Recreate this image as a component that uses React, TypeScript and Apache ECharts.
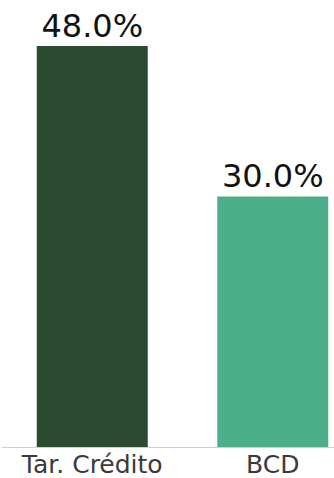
import React, { useEffect, useRef } from "react";
import * as echarts from "echarts";

const categories = ["Tar. Crédito", "BCD"];
const values = [48.0, 30.0];
const barColors = ["#2c4a2f", "#4dae8a"];

export default function App() {
  const ref = useRef<HTMLDivElement>(null);
  useEffect(() => {
    if (!ref.current) return;
    const chart = echarts.init(ref.current, null, { renderer: "svg" });
    chart.setOption({
      animation: false,
      grid: {
        left: 2,
        top: 46,
        bottom: 31,
        width: 361,
        containLabel: false,
        outerBoundsMode: "none",
      },
      xAxis: {
        type: "category",
        data: categories,
        axisLine: { show: true, lineStyle: { color: "#d0d0d0", width: 1 } },
        axisTick: { show: false },
        axisLabel: {
          interval: 0,
          hideOverlap: false,
          color: "#3a3a3a",
          fontSize: 25,
          fontFamily: "DejaVu Sans",
          margin: 5,
          lineHeight: 25,
        },
      },
      yAxis: {
        type: "value",
        min: 0,
        max: 48,
        show: false,
        splitLine: { show: false },
      },
      series: [
        {
          type: "bar",
          barWidth: 111,
          data: values.map((v, i) => ({ value: v, itemStyle: { color: barColors[i] } })),
          label: {
            show: true,
            position: "top",
            distance: 4,
            color: "#111",
            fontSize: 32,
            fontFamily: "DejaVu Sans",
            formatter: (p: any) => p.value.toFixed(1) + "%",
          },
        },
      ],
    });
    return () => chart.dispose();
  }, []);
  return (
    <div
      ref={ref}
      style={{ position: "absolute", left: 0, top: 0, width: 334, height: 478 }}
    />
  );
}
